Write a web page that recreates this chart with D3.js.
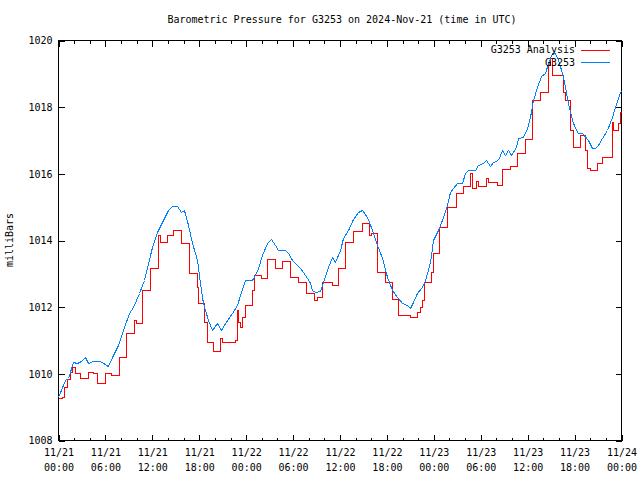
<!DOCTYPE html>
<html>
<head>
<meta charset="utf-8">
<script src="https://cdn.jsdelivr.net/npm/d3@7"></script>
<style>
  html, body { margin: 0; padding: 0; background: #fff; }
  svg { display: block; }
  text { font-family: "DejaVu Sans Mono", "Liberation Mono", monospace; font-size: 10px; fill: #000; }
</style>
</head>
<body>
<svg id="chart" width="640" height="480"></svg>
<script>
// ---- data ----
const chartTitle = "Barometric Pressure for G3253 on 2024-Nov-21 (time in UTC)";
const yLabel = "milliBars";
const seriesNames = ["G3253 Analysis", "G3253"];
const yTicks = [1008, 1010, 1012, 1014, 1016, 1018, 1020];
const startTime = "2024-11-21T00:00:00Z";
const endTime = "2024-11-24T00:00:00Z";

// Analysis series: hours since start, pressure (mb)
const analysisHours = [0, 0.5, 0.77, 1.15, 1.53, 1.79, 2.17, 2.81, 3.84, 4.48, 4.99, 6.01, 6.78, 7.80, 8.70, 9.72, 9.98, 10.74, 11.77,
  12.79, 13.05, 13.94, 14.71, 15.73, 16.75, 17.78, 17.9, 18.67, 19.06, 19.82, 20.72, 20.97, 22.64, 22.89, 23.02, 23.28, 23.53, 23.92,
  24.81, 25.07, 25.96, 26.73, 27.75, 28.65, 29.67, 30.69, 31.72, 32.74, 33.12, 33.76, 35.04, 35.81, 36.71, 37.73, 38.88, 39.77, 40.03,
  40.8, 41.82, 42.72, 43.48, 45.02, 45.91, 46.3, 46.55, 46.81, 47.7, 47.96, 48.73, 49.75, 50.9, 51.8, 52.69, 52.95, 53.46, 53.71, 54.74,
  54.99, 56.14, 56.78, 57.81, 58.7, 59.73, 60.62, 61.64, 62.67, 62.92, 63.18, 64.59, 64.84, 65.48, 65.86, 66.76, 67.4, 67.66, 68.04,
  68.93, 69.57, 70.85, 70.98, 71.62, 71.88, 72];
const analysisValues = [1009.26, 1009.29, 1009.59, 1009.83, 1010.04, 1010.19, 1010.01, 1009.86, 1010.04, 1010.01, 1009.71, 1010.01, 1009.95, 1010.49, 1011.21, 1011.6, 1011.51, 1012.5, 1013.16,
  1014.15, 1013.94, 1014.15, 1014.3, 1013.91, 1013.01, 1012.59, 1012.11, 1011.54, 1010.94, 1010.67, 1011.06, 1010.94, 1011.0, 1011.9, 1011.54, 1011.39, 1011.69, 1012.05,
  1012.5, 1012.95, 1012.86, 1013.43, 1013.16, 1013.37, 1012.89, 1012.74, 1012.41, 1012.2, 1012.29, 1012.74, 1012.65, 1013.16, 1013.94, 1014.27, 1014.51, 1014.15, 1014.21,
  1013.04, 1012.74, 1012.23, 1011.75, 1011.69, 1011.84, 1011.99, 1012.2, 1012.74, 1013.04, 1013.61, 1014.39, 1014.99, 1015.41, 1015.62, 1016.01, 1015.56, 1015.77, 1015.62, 1015.86,
  1015.74, 1015.65, 1016.13, 1016.22, 1016.61, 1017.03, 1018.2, 1018.44, 1019.25, 1019.46, 1018.95, 1018.44, 1018.2, 1017.3, 1016.79, 1017.15, 1016.7, 1016.16, 1016.1,
  1016.31, 1016.49, 1017.54, 1017.3, 1017.51, 1017.84, 1017.84];

// Station series: hours since start, pressure (mb)
const stationHours = [0, 0.9, 1.28, 1.92, 2.43, 2.94, 3.45, 3.84, 4.48, 5.37, 5.76, 6.39, 6.91, 7.67, 8.44, 9.08, 9.59, 10.36, 11.0,
  12.02, 12.66, 13.3, 14.07, 14.58, 15.22, 15.73, 16.11, 16.63, 17.14, 17.78, 18.16, 18.54, 19.18, 19.7, 20.33, 20.85, 21.36, 22.25,
  22.89, 23.28, 23.92, 24.81, 25.19, 25.58, 26.09, 26.73, 27.24, 27.75, 28.14, 29.03, 29.42, 29.93, 30.31, 30.95, 31.33, 31.85, 32.23,
  32.48, 32.87, 33.51, 33.89, 34.53, 35.04, 35.43, 36.07, 36.45, 37.09, 37.73, 38.37, 38.88, 39.52, 40.16, 40.8, 41.44, 42.08, 42.72,
  43.36, 44.0, 44.63, 45.02, 45.4, 45.91, 46.55, 46.94, 47.58, 47.96, 48.6, 49.24, 49.75, 50.13, 50.52, 51.03, 51.67, 52.05, 52.44,
  53.33, 53.71, 54.35, 54.74, 55.25, 55.63, 56.27, 56.78, 57.17, 57.55, 57.94, 58.57, 58.83, 59.47, 59.98, 60.36, 60.75, 61.26, 61.77,
  62.28, 62.67, 63.18, 63.56, 63.95, 64.46, 64.84, 65.22, 65.74, 66.12, 66.5, 67.01, 67.78, 68.29, 68.68, 69.06, 69.57, 70.21, 70.85,
  71.24, 71.88, 72];
const stationValues = [1009.29, 1009.8, 1009.86, 1010.34, 1010.31, 1010.37, 1010.49, 1010.31, 1010.37, 1010.37, 1010.31, 1010.22, 1010.49, 1010.85, 1011.39, 1011.81, 1011.99, 1012.41, 1012.8,
  1013.79, 1014.24, 1014.54, 1014.9, 1015.02, 1015.02, 1014.84, 1014.9, 1014.45, 1013.91, 1013.4, 1012.71, 1012.11, 1011.6, 1011.3, 1011.51, 1011.3, 1011.51, 1011.81,
  1012.05, 1012.35, 1012.8, 1012.8, 1012.95, 1013.16, 1013.55, 1013.91, 1014.03, 1013.85, 1013.7, 1013.7, 1013.61, 1013.4, 1013.31, 1013.16, 1013.04, 1012.86, 1012.71,
  1012.5, 1012.44, 1012.47, 1012.74, 1013.19, 1013.49, 1013.34, 1013.7, 1014.06, 1014.3, 1014.63, 1014.84, 1014.9, 1014.69, 1014.3, 1013.85, 1013.46, 1012.89, 1012.5,
  1012.29, 1012.11, 1012.05, 1011.96, 1012.14, 1012.41, 1012.59, 1012.8, 1013.34, 1014.0, 1014.3, 1014.69, 1015.05, 1015.44, 1015.56, 1015.71, 1015.71, 1016.01, 1016.1,
  1016.1, 1016.25, 1016.31, 1016.4, 1016.22, 1016.34, 1016.4, 1016.7, 1016.55, 1016.7, 1016.55, 1016.79, 1017.06, 1017.09, 1017.36, 1017.69, 1018.2, 1018.59, 1018.92,
  1019.01, 1019.31, 1019.61, 1019.61, 1019.4, 1019.01, 1018.59, 1018.11, 1017.6, 1017.36, 1017.21, 1017.21, 1017.0, 1016.76, 1016.76, 1016.85, 1017.06, 1017.3, 1017.69,
  1018.0, 1018.44, 1018.48];

// ---- drawing ----
(function () {
const svg = d3.select("#chart");
const pL = 58.5, pR = 621.5, pT = 40.5, pB = 440.5;

const t0 = new Date(startTime), t1 = new Date(endTime);
const hourToDate = h => new Date(t0.getTime() + h * 3600 * 1000);

const x = d3.scaleUtc().domain([t0, t1]).range([pL, pR]);
const y = d3.scaleLinear().domain([1008, 1020]).range([pB, pT]);

// title
svg.append("text").attr("x", 342).attr("y", 23).attr("text-anchor", "middle").text(chartTitle);

// y label
svg.append("text")
  .attr("transform", "translate(13,240) rotate(-90)")
  .attr("text-anchor", "middle")
  .text(yLabel);

const fmtDate = d3.utcFormat("%m/%d");
const fmtTime = d3.utcFormat("%H:%M");

const minorTicks = d3.utcHour.every(2).range(t0, t1).filter(d => d.getUTCHours() % 6 !== 0);
const majorTicks = d3.utcHour.every(6).range(t0, new Date(t1.getTime() + 1));

const axisG = svg.append("g").attr("shape-rendering", "crispEdges");

function clean(g) {
  g.select(".domain").remove();
  g.attr("font-family", null).attr("font-size", null);
}

const bottomAxis = axisG.append("g").attr("transform", `translate(0,${pB})`)
  .call(d3.axisBottom(x).tickValues(majorTicks).tickSizeInner(-6).tickSizeOuter(0).tickFormat(""));
clean(bottomAxis);
bottomAxis.selectAll(".tick text").remove();
bottomAxis.selectAll(".tick").each(function (d) {
  const t = d3.select(this).append("text").attr("text-anchor", "middle").attr("y", 15);
  t.append("tspan").attr("x", 0).text(fmtDate(d));
  t.append("tspan").attr("x", 0).attr("dy", 15).text(fmtTime(d));
});
clean(axisG.append("g").attr("transform", `translate(0,${pB})`)
  .call(d3.axisBottom(x).tickValues(minorTicks).tickSizeInner(-3).tickSizeOuter(0).tickFormat("")));

clean(axisG.append("g").attr("transform", `translate(0,${pT})`)
  .call(d3.axisTop(x).tickValues(majorTicks).tickSizeInner(-6).tickSizeOuter(0).tickFormat("")));
clean(axisG.append("g").attr("transform", `translate(0,${pT})`)
  .call(d3.axisTop(x).tickValues(minorTicks).tickSizeInner(-3).tickSizeOuter(0).tickFormat("")));

const leftAxis = axisG.append("g").attr("transform", `translate(${pL},0)`)
  .call(d3.axisLeft(y).tickValues(yTicks).tickSizeInner(-6).tickSizeOuter(0).tickPadding(6).tickFormat(d3.format("d")));
clean(leftAxis);

clean(axisG.append("g").attr("transform", `translate(${pR},0)`)
  .call(d3.axisRight(y).tickValues(yTicks).tickSizeInner(-6).tickSizeOuter(0).tickFormat("")));

axisG.selectAll("line").attr("stroke", "#000");
axisG.selectAll("text").attr("fill", "#000");

axisG.append("rect")
  .attr("x", pL).attr("y", pT)
  .attr("width", pR - pL).attr("height", pB - pT)
  .attr("fill", "none").attr("stroke", "#000");

const analysis = analysisHours.map((h, i) => ({ t: hourToDate(h), v: analysisValues[i] }));
const station = stationHours.map((h, i) => ({ t: hourToDate(h), v: stationValues[i] }));

const stepLine = d3.line().x(d => x(d.t)).y(d => y(d.v)).curve(d3.curveStepAfter);
const plainLine = d3.line().x(d => x(d.t)).y(d => y(d.v));

svg.append("path").datum(analysis).attr("d", stepLine)
  .attr("fill", "none").attr("stroke", "#ff0000").attr("stroke-width", 1).attr("shape-rendering", "crispEdges");
svg.append("path").datum(station).attr("d", plainLine)
  .attr("fill", "none").attr("stroke", "#0080ff").attr("stroke-width", 1).attr("shape-rendering", "crispEdges");

const colors = ["#ff0000", "#0080ff"];
seriesNames.forEach((name, i) => {
  const yy = 49.5 + i * 12.5;
  svg.append("text").attr("x", 575).attr("y", yy).attr("dy", "0.35em").attr("text-anchor", "end").text(name);
  svg.append("line").attr("x1", 581).attr("x2", 610).attr("y1", Math.round(yy) + 0.5).attr("y2", Math.round(yy) + 0.5)
    .attr("stroke", colors[i]).attr("stroke-width", 1).attr("shape-rendering", "crispEdges");
});
})();
</script>
</body>
</html>
